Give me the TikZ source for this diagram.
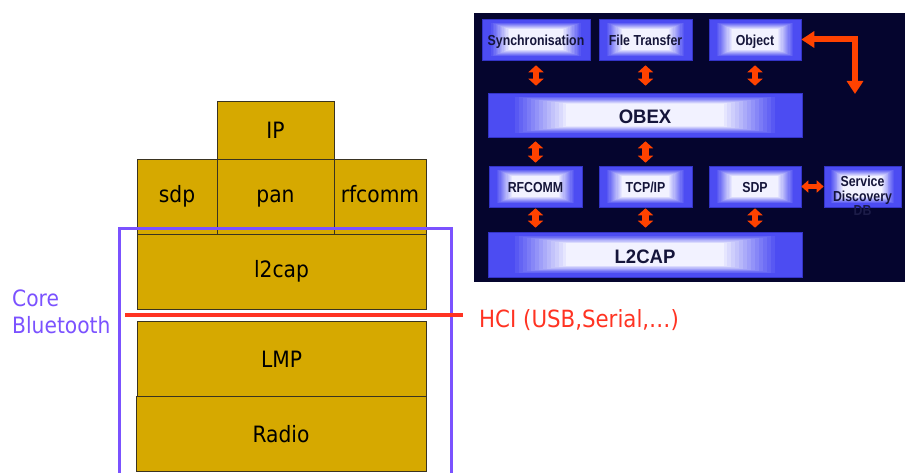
\documentclass[tikz,border=0pt]{standalone}
\usepackage{fontspec}
\setmainfont{Liberation Sans}
\newfontfamily\stackfont[FakeStretch=0.9]{DejaVu Sans}
\newfontfamily\panelfont[FakeStretch=0.85]{Liberation Sans}
\newfontfamily\panelbigfont[FakeStretch=0.95]{Liberation Sans}
\usetikzlibrary{calc,arrows.meta}
\definecolor{gold}{HTML}{D6A900}
\definecolor{goldline}{HTML}{3A3320}
\definecolor{corepurple}{HTML}{7B52FF}
\definecolor{hcired}{HTML}{FF3322}
\definecolor{panelbg}{HTML}{05052E}
\definecolor{boxblue}{HTML}{4C4CF2}
\definecolor{boxline}{HTML}{3434C8}
\definecolor{boxwhite}{HTML}{F2F2FF}
\definecolor{boxtext}{HTML}{15153A}
\definecolor{dbtext}{HTML}{1C1C48}
\definecolor{arroworange}{HTML}{FF4200}
\begin{document}
\begin{tikzpicture}[x=1pt,y=-1pt,
  layer/.style={draw=goldline, line width=0.8pt, fill=gold, inner sep=0pt,
    font=\stackfont\fontsize{22.5}{27}\selectfont, text=black},
  lowtext/.style={text height=18pt, text depth=5pt},
  captext/.style={text height=18pt, text depth=0pt},
  pillow/.style={draw=boxline, line width=0.6pt, fill=boxblue, inner sep=0pt, text=boxtext,
    font=\panelfont\bfseries\fontsize{14.5}{15}\selectfont, text height=12pt, text depth=0pt,
    path picture={
      \foreach \k in {0,...,18} {
        \pgfmathsetmacro\f{0.9-\k*0.025}
        \pgfmathsetmacro\p{max(0,min(100,(\f-0.5)/0.35*100))}
        \fill[boxblue!\p!boxwhite]
          ($(path picture bounding box.center)!\f!(path picture bounding box.south west)$)
          rectangle
          ($(path picture bounding box.center)!\f!(path picture bounding box.north east)$);
      }}},
  bigtext/.style={font=\panelbigfont\bfseries\fontsize{19.5}{22}\selectfont, text height=18pt, text depth=0pt},
  vbar/.style={arroworange, line width=6.5pt,
    {Triangle[width=15pt,length=7pt]}-{Triangle[width=15pt,length=7pt]}},
  hbar/.style={arroworange, line width=5pt,
    {Triangle[width=12pt,length=7pt]}-{Triangle[width=12pt,length=7pt]}},
  elbowbar/.style={arroworange, line width=6pt,
    {Triangle[width=16pt,length=13pt]}-{Triangle[width=16pt,length=13pt]}},
  corelabel/.style={text=corepurple, font=\stackfont\fontsize{22.5}{27}\selectfont, align=left, inner sep=0pt},
  hcilabel/.style={text=hcired, font=\stackfont\fontsize{23.7}{27}\selectfont, inner sep=0pt}
]
\useasboundingbox (0,0) rectangle (905,473);

% ---------- left protocol stack ----------
\node[layer, captext, minimum width=117pt, minimum height=58pt] (ip) at (275.5,130) {IP};
\node[layer, lowtext, minimum width=80pt, minimum height=75pt] (sdpl) at (177,196.5) {sdp};
\node[layer, lowtext, minimum width=117pt, minimum height=75pt] (pan) at (275.5,196.5) {pan};
\node[layer, lowtext, minimum width=92pt, minimum height=75pt] (rfc) at (380,196.5) {rfcomm};
\node[layer, text height=17pt, text depth=6pt, minimum width=289pt, minimum height=75pt] (l2c) at (281.5,271.5) {l2cap};
\node[layer, captext, minimum width=289pt, minimum height=75pt] (lmp) at (281.5,358.5) {LMP};
\node[layer, captext, minimum width=290pt, minimum height=75pt] (radio) at (281,433.5) {Radio};

\draw[corepurple, line width=3pt] (119,475) -- (119,229) -- (451,229) -- (451,475);

\coordinate (hciL) at (125,315);
\coordinate (hciR) at (463,315);
\draw[hcired, line width=3.5pt] (hciL) -- (hciR);

\node[corelabel, anchor=west] (core) at (12,312) {Core\\Bluetooth};
\node[hcilabel, anchor=base west] (hci) at (479,327) {HCI (USB,Serial,…)};

% ---------- right panel ----------
\fill[panelbg] (474,13) rectangle (905,282);

\node[pillow, minimum width=108pt, minimum height=41pt] (sync) at (536,39.5) {Synchronisation};
\node[pillow, minimum width=93pt, minimum height=41pt] (ftp) at (645.5,39.5) {File Transfer};
\node[pillow, minimum width=92pt, minimum height=41pt] (obj) at (755,39.5) {Object};
\node[pillow, bigtext, minimum width=314pt, minimum height=44pt] (obex) at (645,115) {OBEX};
\node[pillow, minimum width=93pt, minimum height=41pt] (rfcomm) at (535.5,186.5) {RFCOMM};
\node[pillow, minimum width=93pt, minimum height=41pt] (tcpip) at (645.5,186.5) {TCP/IP};
\node[pillow, minimum width=92pt, minimum height=41pt] (sdp) at (755,186.5) {SDP};
\node[pillow, minimum width=77pt, minimum height=41pt] (sd) at (862.5,186.5) {};
\node[pillow, bigtext, minimum width=314pt, minimum height=45pt] (l2cap) at (645,254.5) {L2CAP};

\node[align=center, inner sep=0pt, font=\panelfont\bfseries\fontsize{14.5}{14.5}\selectfont,
      text=boxtext, anchor=north] (sdtext) at (862.5,176) {Service\\Discovery\\\textcolor{dbtext}{DB}};

% arrows
\draw[vbar, shorten <=5pt, shorten >=7pt] (sync.south) -- (sync.south |- obex.north);
\draw[vbar, shorten <=5pt, shorten >=7pt] (ftp.south) -- (ftp.south |- obex.north);
\draw[vbar, shorten <=5pt, shorten >=7pt] (obj.south) -- (obj.south |- obex.north);
\draw[vbar, shorten <=4pt, shorten >=3pt] (rfcomm.north |- obex.south) -- (rfcomm.north);
\draw[vbar, shorten <=4pt, shorten >=3pt] (tcpip.north |- obex.south) -- (tcpip.north);
\draw[vbar, shorten <=1pt, shorten >=4pt] (rfcomm.south) -- (rfcomm.south |- l2cap.north);
\draw[vbar, shorten <=1pt, shorten >=4pt] (tcpip.south) -- (tcpip.south |- l2cap.north);
\draw[vbar, shorten <=1pt, shorten >=4pt] (sdp.south) -- (sdp.south |- l2cap.north);
\draw[hbar] (sdp.east) -- (sd.west);
\coordinate (elbowend) at (855,94);
\draw[elbowbar] (obj.east) -| (elbowend);
\end{tikzpicture}
\end{document}
